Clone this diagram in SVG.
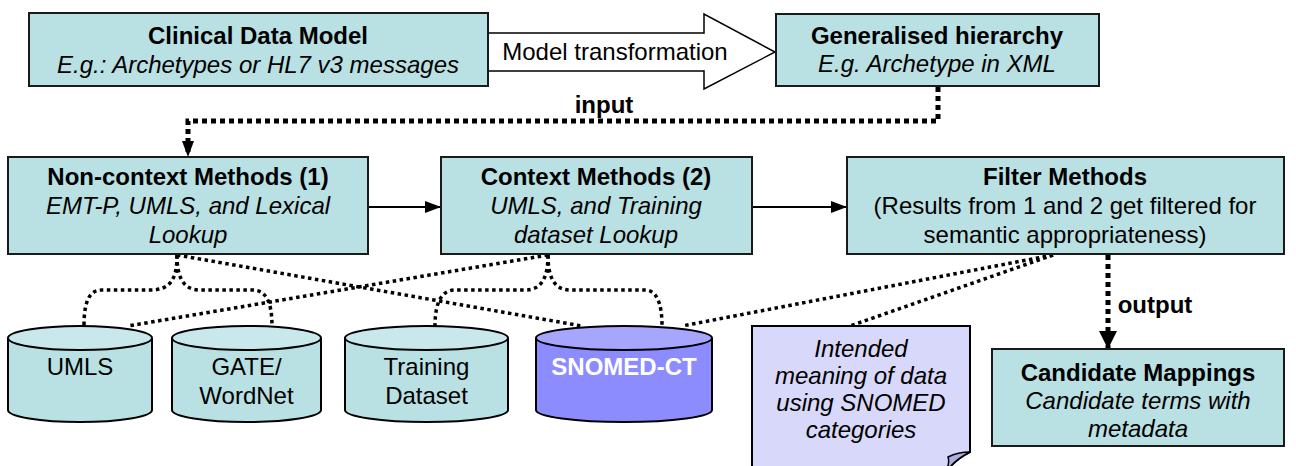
<svg xmlns="http://www.w3.org/2000/svg" width="1296" height="466" viewBox="0 0 1296 466">
<style>
.box{fill:#b9e0e3;stroke:#1a1a1a;stroke-width:2}
.cyl{fill:#b9e0e3;stroke:#000;stroke-width:2}
.cylt{fill:#c9e8eb;stroke:#000;stroke-width:2}
.sn{fill:#8c8cff;stroke:#000;stroke-width:2}
.snt{fill:#a6a6ff;stroke:#000;stroke-width:2}
.t{font-family:"Liberation Sans",Arial,sans-serif;font-size:24px;text-anchor:middle;fill:#000}
.b{font-weight:bold}
.i{font-style:italic}
.w{fill:#fff}
.dot{fill:none;stroke:#000;stroke-width:3.5;stroke-dasharray:3.5 3.5}
.dotk{fill:none;stroke:#000;stroke-width:5;stroke-dasharray:5 4}
.sol{fill:none;stroke:#000;stroke-width:2}
</style>
<defs>
<marker id="ah" viewBox="0 0 16 12" refX="16" refY="6" markerWidth="16" markerHeight="12" orient="auto" markerUnits="userSpaceOnUse"><path d="M0,0 L16,6 L0,12 Z" fill="#000"/></marker>
<marker id="ahb" viewBox="0 0 18 18" refX="18" refY="9" markerWidth="18" markerHeight="18" orient="auto" markerUnits="userSpaceOnUse"><path d="M0,0 L18,9 L0,18 Z" fill="#000"/></marker>
</defs>

<g id="connectors">
<path d="M488,33 H704 V14 L775,52 L704,89 V71 H488" fill="#fff" stroke="#000" stroke-width="1.5"/>
<text class="t" x="615" y="60">Model transformation</text>
<path class="dotk" d="M938,87 V121 H188 V157" marker-end="url(#ah)"/>
<text class="t b" x="604" y="113">input</text>
<path class="sol" d="M368,207 H441" marker-end="url(#ah)"/>
<path class="sol" d="M752,207 H847" marker-end="url(#ah)"/>
<path class="dotk" d="M1108,255 V349" marker-end="url(#ahb)"/>
<text class="t b" x="1155" y="313">output</text>
<path class="dot" d="M177,255 C177,280 170,290 150,290 H102 C90,290 84,300 84,326"/>
<path class="dot" d="M177,255 C177,280 185,290 200,290 H252 C265,290 272,300 272,326"/>
<path class="dot" d="M177,255 L582,326"/>
<path class="dot" d="M548,255 L128,326"/>
<path class="dot" d="M548,255 C548,280 540,290 525,290 H455 C443,290 435,300 435,326"/>
<path class="dot" d="M548,255 C548,280 556,290 570,290 H645 C655,290 662,300 662,326"/>
<path class="dot" d="M1053,255 L682,326"/>
<path class="dot" d="M1053,255 L850,326"/>
</g>

<g id="clinical">
<rect class="box" x="29" y="13" width="459" height="73"/>
<text class="t b" x="258" y="44">Clinical Data Model</text>
<text class="t i" x="258" y="73">E.g.: Archetypes or HL7 v3 messages</text>
</g>
<g id="generalised">
<rect class="box" x="776" y="14" width="323" height="72"/>
<text class="t b" x="937" y="44">Generalised hierarchy</text>
<text class="t i" x="937" y="72">E.g. Archetype in XML</text>
</g>
<g id="noncontext">
<rect class="box" x="8" y="157" width="360" height="97"/>
<text class="t b" x="188" y="185">Non-context Methods (1)</text>
<text class="t i" x="188" y="214">EMT-P, UMLS, and Lexical</text>
<text class="t i" x="188" y="243">Lookup</text>
</g>
<g id="context">
<rect class="box" x="441" y="157" width="311" height="97"/>
<text class="t b" x="596" y="185">Context Methods (2)</text>
<text class="t i" x="596" y="214">UMLS, and Training</text>
<text class="t i" x="596" y="243">dataset Lookup</text>
</g>
<g id="filter">
<rect class="box" x="847" y="157" width="437" height="97"/>
<text class="t b" x="1065" y="185">Filter Methods</text>
<text class="t" x="1065" y="214">(Results from 1 and 2 get filtered for</text>
<text class="t" x="1065" y="243">semantic appropriateness)</text>
</g>
<g id="candidate">
<rect class="box" x="992" y="349" width="292" height="97"/>
<text class="t b" x="1138" y="381">Candidate Mappings</text>
<text class="t i" x="1138" y="409">Candidate terms with</text>
<text class="t i" x="1138" y="437">metadata</text>
</g>

<g id="umls">
<path class="cyl" d="M8,338 V410 A72,12 0 0 0 152,410 V338"/>
<ellipse class="cylt" cx="80" cy="338" rx="72" ry="12"/>
<text class="t" x="80" y="375">UMLS</text>
</g>
<g id="gate">
<path class="cyl" d="M172,338 V410 A74.5,12 0 0 0 321,410 V338"/>
<ellipse class="cylt" cx="246.5" cy="338" rx="74.5" ry="12"/>
<text class="t" x="246.5" y="375">GATE/</text>
<text class="t" x="246.5" y="404">WordNet</text>
</g>
<g id="training">
<path class="cyl" d="M345,338 V410 A81.5,12 0 0 0 508,410 V338"/>
<ellipse class="cylt" cx="426.5" cy="338" rx="81.5" ry="12"/>
<text class="t" x="426.5" y="375">Training</text>
<text class="t" x="426.5" y="404">Dataset</text>
</g>
<g id="snomed">
<path class="sn" d="M536,338 V410 A88,12 0 0 0 712,410 V338"/>
<ellipse class="snt" cx="624" cy="338" rx="88" ry="12"/>
<text class="t b w" x="624" y="375">SNOMED-CT</text>
</g>

<g id="note">
<path d="M752,326 H970 V452 C962,456 953,462 946,472 H752 Z" fill="#d8d8fa" stroke="#000" stroke-width="2"/>
<path d="M970,452 C962,452 954,454 948,457 C950,462 948,467 946,472 C953,462 962,456 970,452 Z" fill="#aeaede" stroke="#000" stroke-width="1.5"/>
<text class="t i" x="861" y="357">Intended</text>
<text class="t i" x="861" y="384">meaning of data</text>
<text class="t i" x="861" y="411">using SNOMED</text>
<text class="t i" x="861" y="438">categories</text>
</g>
</svg>
